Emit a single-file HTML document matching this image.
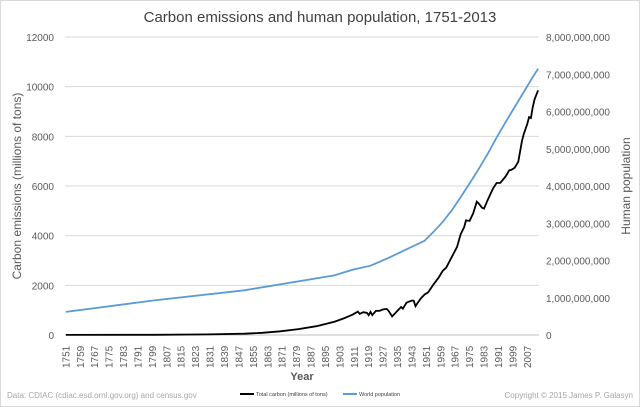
<!DOCTYPE html>
<html><head><meta charset="utf-8"><style>
body{margin:0;background:#fff;}
svg{display:block;font-family:"Liberation Sans",sans-serif;}
</style></head><body>
<svg id="chart" width="640" height="407" viewBox="0 0 640 407">
<rect x="0.5" y="0.5" width="639" height="406" fill="#fff" stroke="#d9d9d9"/>
<text x="320" y="22" text-anchor="middle" font-size="15" fill="#404040">Carbon emissions and human population, 1751-2013</text>
<g id="grid"></g>
<g id="lticks"></g>
<g id="rticks"></g>
<g id="xticks"></g>
<g id="series"></g>
<text transform="translate(21,186) rotate(-90)" text-anchor="middle" font-size="12" fill="#595959">Carbon emissions (millions of tons)</text>
<text transform="translate(630,186) rotate(-90)" text-anchor="middle" font-size="12" fill="#595959">Human population</text>
<text x="302" y="380" text-anchor="middle" font-size="11" font-weight="bold" fill="#595959">Year</text>
<text x="7" y="398" font-size="8" fill="#a6a6a6">Data: CDIAC (cdiac.esd.ornl.gov.org)  and census.gov</text>
<text x="633" y="398" text-anchor="end" font-size="8" fill="#a6a6a6">Copyright © 2015 James P. Galasyn</text>
<g>
<g><line x1="240" y1="394" x2="254" y2="394" stroke="#000" stroke-width="2"/><text x="256" y="396" font-size="5.5" fill="#404040">Total carbon (millions of tons)</text></g>
<g><line x1="343" y1="394" x2="357" y2="394" stroke="#5b9bd5" stroke-width="2"/><text x="359" y="396" font-size="5.5" fill="#404040">World population</text></g>
</g>
</svg>
<script>
const carbonYears=[1751,1800,1830,1850,1860,1870,1880,1890,1900,1905,1910,1913,1914,1916,1918,1919,1920,1921,1923,1925,1927,1929,1930,1932,1934,1936,1937,1938,1940,1941,1943,1944,1945,1946,1948,1950,1952,1955,1958,1960,1962,1965,1968,1970,1972,1973,1975,1977,1979,1980,1982,1983,1985,1988,1990,1992,1995,1997,1998,2000,2002,2004,2005,2007,2008,2009,2010,2011,2013];
const carbonValues=[3,8,25,54,90,147,236,356,534,663,819,943,849,920,895,798,932,803,969,975,1030,1053,973,750,900,1050,1129,1061,1299,1334,1390,1380,1160,1271,1480,1630,1720,2040,2330,2577,2710,3130,3540,4053,4350,4614,4595,4900,5369,5301,5117,5089,5428,5900,6120,6125,6391,6638,6643,6735,6980,7800,8086,8500,8776,8738,9167,9483,9855];
const popYears=[1751,1800,1850,1900,1910,1920,1930,1940,1950,1955,1960,1965,1970,1975,1980,1985,1990,1995,2000,2005,2010,2013];
const popValues=[620e6,930e6,1200e6,1600e6,1750e6,1860e6,2070e6,2300e6,2530e6,2770e6,3030e6,3340e6,3700e6,4070e6,4450e6,4860e6,5300e6,5720e6,6120e6,6520e6,6920e6,7150e6];
const leftTicks=[0,2000,4000,6000,8000,10000,12000];
const rightTicks=["0","1,000,000,000","2,000,000,000","3,000,000,000","4,000,000,000","5,000,000,000","6,000,000,000","7,000,000,000","8,000,000,000"];
const NS="http://www.w3.org/2000/svg";
const X0=65,X1=539,Y0=335,Y1=37,firstYear=1751,nYears=263;
const step=(X1-X0)/nYears;
const xs=y=>X0+step*(y-firstYear+0.5);
const yl=v=>Y0-(v/12000)*(Y0-Y1);
const yr=v=>Y0-(v/8e9)*(Y0-Y1);
function mk(tag,attrs,parent){const e=document.createElementNS(NS,tag);for(const k in attrs)e.setAttribute(k,attrs[k]);parent.appendChild(e);return e;}
const grid=document.getElementById('grid'),lt=document.getElementById('lticks'),rt=document.getElementById('rticks'),xt=document.getElementById('xticks'),ser=document.getElementById('series');
leftTicks.forEach(v=>{
  const l=mk('line',{x1:X0,x2:X1,y1:yl(v),y2:yl(v),stroke:v===0?'#bfbfbf':'#d9d9d9','stroke-width':1},grid);
  
  
  const t=mk('text',{x:54,y:yl(v)+4,'text-anchor':'end','font-size':10,fill:'#595959'},lt);
  
  
  t.textContent=v;
});
rightTicks.forEach((s,i)=>{
  const t=mk('text',{x:546,y:yr(i*1e9)+4,'font-size':10,fill:'#595959'},rt);
  
  
  t.textContent=s;
});
for(let y=1751;y<=2013;y+=8){
  const x=xs(y);
  const t=mk('text',{transform:`translate(${x+3.5},368) rotate(-90)`,'font-size':10,fill:'#595959'},xt);
  
  
  t.textContent=y;
}
const pp=popYears.map((y,i)=>xs(y).toFixed(1)+','+yr(popValues[i]).toFixed(1)).join(' ');
const pl=mk('polyline',{points:pp,fill:'none',stroke:'#5b9bd5','stroke-width':1.8},ser);


const cp=carbonYears.map((y,i)=>xs(y).toFixed(1)+','+yl(carbonValues[i]).toFixed(1)).join(' ');
const cl=mk('polyline',{points:cp,fill:'none',stroke:'#000','stroke-width':1.8},ser);


</script>
</body></html>
